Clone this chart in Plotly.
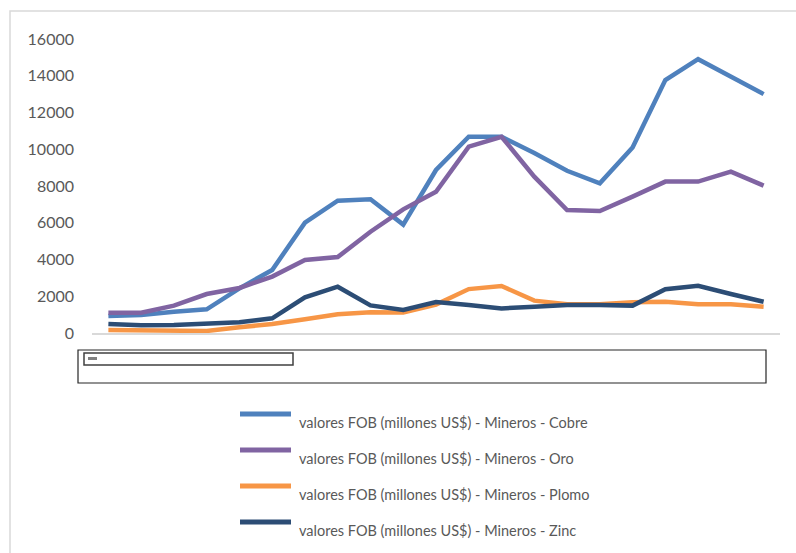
import plotly.graph_objects as go

# Series (FOB values, millions of US$) by period
periodos = ["P01", "P02", "P03", "P04", "P05", "P06", "P07", "P08", "P09", "P10", "P11",
            "P12", "P13", "P14", "P15", "P16", "P17", "P18", "P19", "P20", "P21"]
cobre = [930, 980, 1160, 1290, 2430, 3430, 6000, 7200, 7280, 5900, 8870,
         10680, 10680, 9800, 8830, 8150, 10100, 13770, 14900, 13950, 13000]
oro = [1100, 1100, 1490, 2120, 2450, 3070, 3970, 4130, 5510, 6730, 7690,
       10140, 10680, 8510, 6690, 6640, 7420, 8240, 8240, 8780, 8020]
plomo = [160, 130, 150, 110, 310, 490, 750, 1020, 1130, 1110, 1550,
         2390, 2560, 1760, 1560, 1560, 1670, 1700, 1560, 1560, 1430]
zinc = [490, 420, 430, 530, 580, 800, 1940, 2520, 1500, 1250, 1690,
        1520, 1340, 1430, 1520, 1520, 1490, 2380, 2570, 2120, 1700]

nombres = [
    "valores FOB (millones US$) - Mineros - Cobre",
    "valores FOB (millones US$) - Mineros - Oro",
    "valores FOB (millones US$) - Mineros - Plomo",
    "valores FOB (millones US$) - Mineros - Zinc",
]
series = [cobre, oro, plomo, zinc]
colores = ["#4F81BD", "#8064A2", "#F79646", "#2C4D75"]
y_ticks = [0, 2000, 4000, 6000, 8000, 10000, 12000, 14000, 16000]
y_tick_text = ["0", "2000", "4000", "6000", "8000", "10000", "12000", "14000", "16000"]

W, H = 796, 553
M_L, M_R, M_T, M_B = 92, 16, 39, 220
PW, PH = W - M_L - M_R, H - M_T - M_B


def px(x):
    return (x - M_L) / PW


def py(y):
    return (H - M_B - y) / PH


fig = go.Figure()
for nombre, vals, color in zip(nombres, series, colores):
    fig.add_trace(go.Scatter(
        x=periodos, y=vals, name=nombre, mode="lines",
        line=dict(color=color, width=4.5),
        showlegend=False, hoverinfo="skip",
    ))

shapes = []
annotations = []

# outer chart border (light grey)
shapes.append(dict(type="rect", xref="paper", yref="paper",
                   x0=px(10), x1=px(W + 20), y0=py(H + 20), y1=py(11),
                   line=dict(color="#D9D9D9", width=1.5), layer="below"))

# boxed strip under the axis
shapes.append(dict(type="rect", xref="paper", yref="paper",
                   x0=px(78), x1=px(766), y0=py(383), y1=py(350),
                   line=dict(color="#262626", width=1.2)))
shapes.append(dict(type="rect", xref="paper", yref="paper",
                   x0=px(84), x1=px(293), y0=py(365), y1=py(353),
                   line=dict(color="#404040", width=1.5)))
shapes.append(dict(type="line", xref="paper", yref="paper",
                   x0=px(88), x1=px(97), y0=py(358.5), y1=py(358.5),
                   line=dict(color="#808080", width=3)))

# legend drawn below the chart
for k, (nombre, color) in enumerate(zip(nombres, colores)):
    y_line = 414 + 36 * k
    shapes.append(dict(type="line", xref="paper", yref="paper",
                       x0=px(240), x1=px(291), y0=py(y_line), y1=py(y_line),
                       line=dict(color=color, width=5)))
    annotations.append(dict(xref="paper", yref="paper", x=px(297), y=py(y_line + 8),
                            text=nombre, showarrow=False, xanchor="left", yanchor="middle",
                            font=dict(family="Lato, sans-serif", size=14.5, color="#595959")))

fig.update_layout(
    width=W, height=H,
    margin=dict(l=M_L, r=M_R, t=M_T, b=M_B, pad=0),
    paper_bgcolor="white", plot_bgcolor="white",
    shapes=shapes, annotations=annotations,
    showlegend=False,
    xaxis=dict(type="category", showticklabels=False, ticks="", showgrid=False,
               zeroline=False, showline=True, linecolor="#D9D9D9", linewidth=2,
               range=[-0.5, len(periodos) - 0.5]),
    yaxis=dict(range=[0, 16000], tickvals=y_ticks, ticktext=y_tick_text,
               showgrid=False, zeroline=False,
               showline=False, ticks="", ticklabelstandoff=17,
               tickfont=dict(family="Lato, sans-serif", size=16, color="#595959")),
)

fig.write_html("out.html")
